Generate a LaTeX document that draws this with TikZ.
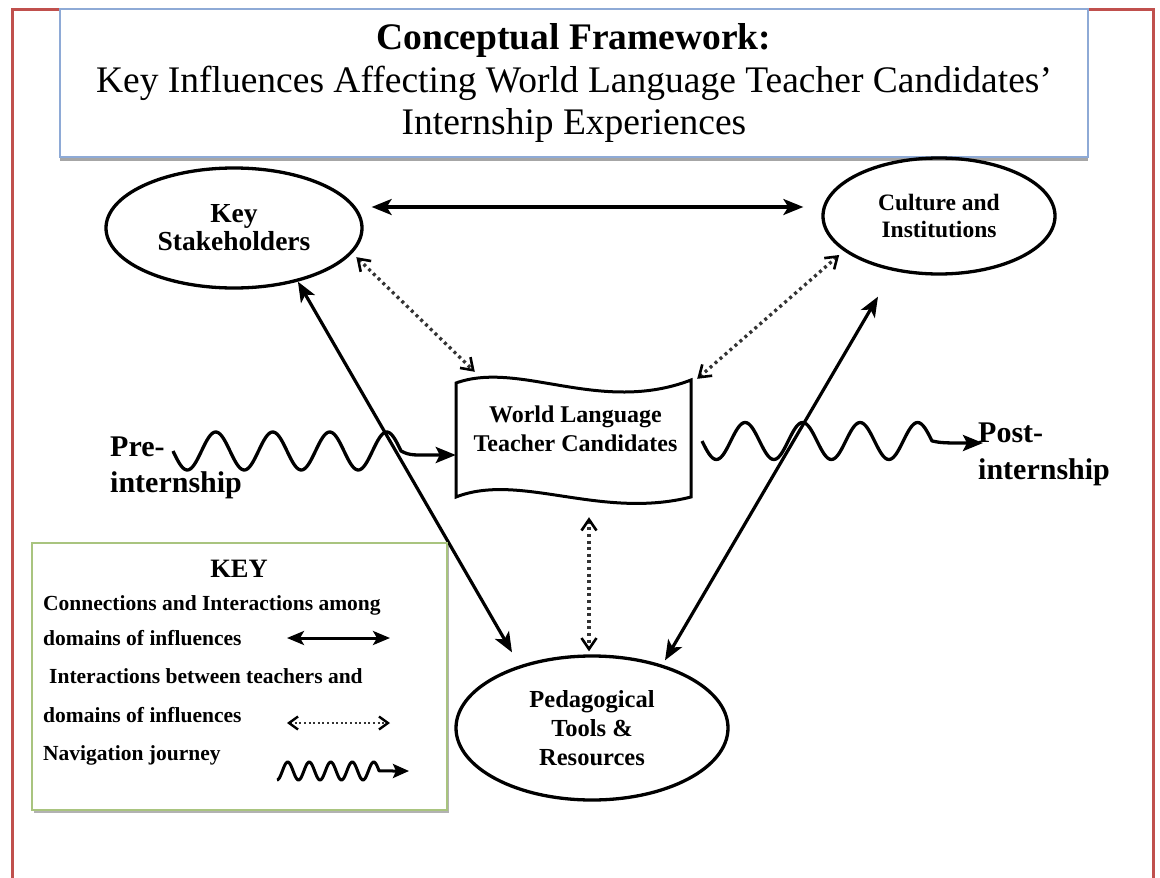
\documentclass[tikz,border=0pt]{standalone}
\usepackage{fontspec}
\setmainfont{Liberation Serif}
\usetikzlibrary{arrows.meta,shapes.geometric,calc,shadows}
\definecolor{framered}{HTML}{C0504D}
\definecolor{titleblue}{HTML}{8EAAD6}
\definecolor{keygreen}{HTML}{A9C47F}
\begin{document}
\begin{tikzpicture}[x=1pt,y=-1pt,
  ell/.style={ellipse, draw, line width=3.3pt, inner sep=0pt, align=center},
  solidarrow/.style={line width=3.2pt, {Stealth[length=20pt,width=16pt,inset=5pt]}-{Stealth[length=20pt,width=16pt,inset=5pt]}},
  dotarrow/.style={line width=3.3pt, black!80, dash pattern=on 3pt off 3.6pt,
     {Straight Barb[length=11pt,width=15pt,line width=2.6pt,color=black]}-{Straight Barb[length=11pt,width=15pt,line width=2.6pt,color=black]}},
  wave/.style={line width=3.3pt, line join=round, -{Stealth[length=20pt,width=16pt,inset=4pt]}},
  keytext/.style={anchor=base west, inner sep=0pt, font=\fontsize{21.5}{24}\bfseries\selectfont},
  sidelabel/.style={anchor=west, inner sep=0pt, align=left, font=\fontsize{30}{36}\bfseries\selectfont}
]
\useasboundingbox (0,0) rectangle (1160,878);
% outer red frame
\draw[framered, line width=3pt] (12,878) -- (12,9) -- (1153,9) -- (1153,878);

% title
\node[draw=titleblue, line width=1.5pt, fill=white, minimum width=1028pt, minimum height=148pt,
      inner sep=0pt, align=center,
      drop shadow={shadow xshift=0pt, shadow yshift=-4pt, opacity=0.35, fill=black},
      font=\fontsize{37.5}{42.5}\selectfont] (title) at (574,83)
  {{\bfseries Conceptual Framework:}\\Key Influences Affecting World Language Teacher Candidates'\\Internship Experiences};

% domains
\node[ell, minimum width=256pt, minimum height=120pt, font=\fontsize{27.5}{28}\bfseries\selectfont] (ks) at (234,228) {Key\\Stakeholders};
\node[ell, minimum width=232pt, minimum height=116pt, font=\fontsize{23.5}{27.5}\bfseries\selectfont] (ci) at (939,216) {Culture and\\Institutions};
\node[ell, minimum width=272pt, minimum height=144pt, font=\fontsize{24.5}{29}\bfseries\selectfont] (ped) at (592,728) {Pedagogical\\Tools \&\\Resources};

% teacher candidates (wavy document shape)
\node[minimum width=235pt, minimum height=118pt, inner sep=0pt] (wltc) at (573.5,440) {};
\draw[line width=3pt, fill=white] (456,383) .. controls (520,360) and (600,415) .. (691,380)
   -- (691,497) .. controls (600,520) and (520,472) .. (456,497) -- cycle;
\node[align=center, inner sep=0pt, font=\fontsize{24}{29}\bfseries\selectfont] (wltctxt) at ($(wltc.center)+(2,-11)$) {World Language\\Teacher Candidates};

% connections among domains
\draw[solidarrow] ($(ks.east)+(8,-21)$) -- ($(ci.west)+(-18,-9)$);
\draw[solidarrow] (ks.-40) -- ($(ped.north)+(-80,-2)$);
\draw[solidarrow] ($(ci.south)+(-61,21)$) -- ($(ped.north)+(73,6)$);

% interactions with teachers
\draw[dotarrow] ($(ks.-12)+(4,4)$) -- ($(wltc.north west)+(19,-9)$);
\draw[dotarrow] ($(ci.201)+(-6,3)$) -- ($(wltc.north east)+(6,-2)$);
\draw[dotarrow] ($(wltc.south)+(15.5,18)$) -- ($(ped.north)+(-3,-3)$);

% navigation journey
\coordinate (prestart) at (173,451);
\coordinate (postend) at (983,443);
\draw[wave] plot[domain=0:4, samples=161, smooth] ({173+57*\x}, {451+19*sin(360*\x)})
   .. controls (410,456) and (415,455) .. ($(wltc.west)+(0,15)$);
\draw[wave] plot[domain=0:4, samples=161, smooth] ({702+57.5*\x}, {441+18.5*sin(360*\x)})
   .. controls (941,443) and (945,443) .. (postend);
\node[sidelabel] (prelbl) at (110,467.6) {Pre-\\internship};
\node[sidelabel, font=\fontsize{30}{37}\bfseries\selectfont] (postlbl) at (978,454.6) {Post-\\internship};

% key
\node[draw=keygreen, line width=2pt, fill=white, minimum width=415pt, minimum height=267pt, inner sep=0pt,
      drop shadow={shadow xshift=2pt, shadow yshift=-3pt, opacity=0.3, fill=black}] (keybox) at (239.5,676.5) {};
\node[anchor=base, inner sep=0pt, font=\fontsize{26.5}{30}\bfseries\selectfont] (keytitle) at (239,577) {KEY};
\node[keytext] (k1) at (43,610) {Connections and Interactions among};
\node[keytext] (k2) at (43,645) {domains of influences};
\node[keytext] (k3) at (49,683) {Interactions between teachers and};
\node[keytext] (k4) at (43,722) {domains of influences};
\node[keytext] (k5) at (43,760) {Navigation journey};
\coordinate (ka1) at (287,638);
\coordinate (ka2) at (390,638);
\coordinate (kb1) at (287,723);
\coordinate (kb2) at (390,723);
\coordinate (kc2) at (409,771);
\draw[line width=3pt, {Stealth[length=17pt,width=14pt,inset=4pt]}-{Stealth[length=17pt,width=14pt,inset=4pt]}] (ka1) -- (ka2);
\draw[dotarrow, dash pattern=on 2pt off 2.6pt, line width=2.4pt,
   {Straight Barb[length=9pt,width=13pt,line width=2.4pt,color=black]}-{Straight Barb[length=9pt,width=13pt,line width=2.4pt,color=black]}] (kb1) -- (kb2);
\draw[wave, line width=3pt, -{Stealth[length=16pt,width=14pt,inset=3pt]}]
   plot[domain=0:4.75, samples=121, smooth] ({277+21.5*\x}, {771+9*cos(360*\x)}) -- (kc2);
\end{tikzpicture}
\end{document}
